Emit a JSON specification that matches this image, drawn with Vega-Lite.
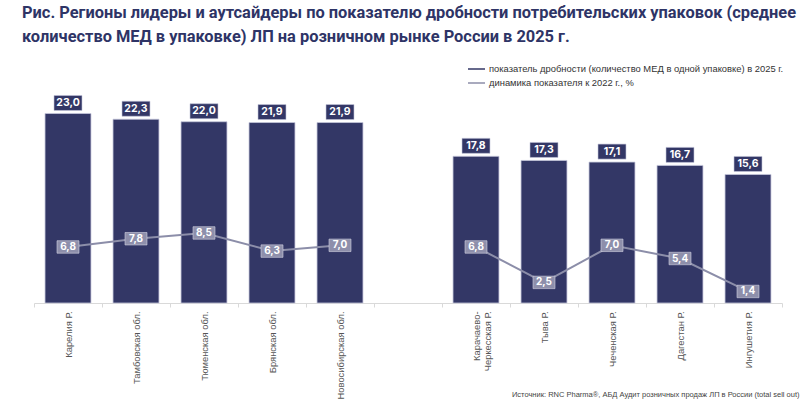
{
  "$schema": "https://vega.github.io/schema/vega-lite/v6.json",
  "autosize": "none",
  "width": 748,
  "height": 206,
  "padding": {"left": 34, "top": 97, "right": 28, "bottom": 115},
  "background": "white",
  "title": {
    "text": [
      "Рис. Регионы лидеры и аутсайдеры по показателю дробности потребительских упаковок (среднее",
      "количество МЕД в упаковке) ЛП на розничном рынке России в 2025 г."
    ],
    "anchor": "start",
    "frame": "group",
    "dx": -12,
    "offset": 14,
    "font": "Roboto",
    "fontSize": 16.4,
    "fontWeight": "bold",
    "color": "#2e3466",
    "lineHeight": 24
  },
  "data": {
    "values": [
      {"region": "Карелия Р.", "grp": "leaders", "bar": 23.0, "line": 6.8},
      {"region": "Тамбовская обл.", "grp": "leaders", "bar": 22.3, "line": 7.8},
      {"region": "Тюменская обл.", "grp": "leaders", "bar": 22.0, "line": 8.5},
      {"region": "Брянская обл.", "grp": "leaders", "bar": 21.9, "line": 6.3},
      {"region": "Новосибирская обл.", "grp": "leaders", "bar": 21.9, "line": 7.0},
      {"region": "Карачаево-Черкесская Р.", "grp": "outsiders", "bar": 17.8, "line": 6.8},
      {"region": "Тыва Р.", "grp": "outsiders", "bar": 17.3, "line": 2.5},
      {"region": "Чеченская Р.", "grp": "outsiders", "bar": 17.1, "line": 7.0},
      {"region": "Дагестан Р.", "grp": "outsiders", "bar": 16.7, "line": 5.4},
      {"region": "Ингушетия Р.", "grp": "outsiders", "bar": 15.6, "line": 1.4}
    ]
  },
  "transform": [
    {"fold": ["bar", "line"], "as": ["key", "value"]}
  ],
  "encoding": {
    "x": {
      "field": "region",
      "type": "nominal",
      "scale": {
        "domain": [
          "Карелия Р.", "Тамбовская обл.", "Тюменская обл.", "Брянская обл.", "Новосибирская обл.",
          " ",
          "Карачаево-Черкесская Р.", "Тыва Р.", "Чеченская Р.", "Дагестан Р.", "Ингушетия Р."
        ],
        "paddingInner": 0,
        "paddingOuter": 0
      },
      "axis": {
        "title": "Источник: RNC Pharma®, АБД Аудит розничных продаж ЛП в России (total sell out)",
        "titleFont": "Liberation Sans",
        "titleFontSize": 7.5,
        "titleFontWeight": "normal",
        "titleColor": "#444444",
        "titleAnchor": "end",
        "titleAlign": "right",
        "titleBaseline": "alphabetic",
        "titleX": 765,
        "titleY": 93,
        "labelAngle": -90,
        "labelFont": "Liberation Sans",
        "labelFontSize": 9.4,
        "labelColor": "#555555",
        "labelPadding": 4,
        "labelExpr": "datum.label == 'Карачаево-Черкесская Р.' ? ['Карачаево-', 'Черкесская Р.'] : datum.label",
        "tickBand": "extent",
        "tickColor": "#d9d9d9",
        "tickSize": 4,
        "domainColor": "#d9d9d9"
      }
    },
    "y": {
      "field": "value",
      "type": "quantitative",
      "scale": {"domain": [0, 25], "nice": false},
      "axis": null
    }
  },
  "layer": [
    {
      "transform": [{"filter": "datum.key == 'bar'"}],
      "mark": {"type": "bar", "width": {"band": 0.676}, "stroke": "#c5c6da", "strokeWidth": 0.8},
      "encoding": {
        "color": {
          "field": "key",
          "type": "nominal",
          "scale": {"domain": ["bar", "line"], "range": ["#333766", "#8c8ea9"]},
          "legend": {
            "title": null,
            "orient": "none",
            "legendX": 433,
            "legendY": -37.5,
            "padding": 0,
            "symbolType": "stroke",
            "symbolSize": 289,
            "rowPadding": -6.5,
            "labelOffset": 3,
            "labelLimit": 400,
            "labelFont": "Liberation Sans",
            "labelFontSize": 9.4,
            "labelColor": "#333333",
            "labelExpr": "datum.value == 'bar' ? 'показатель дробности (количество МЕД в одной упаковке) в 2025 г.' : 'динамика показателя к 2022 г., %'",
            "encode": {
              "symbols": {
                "update": {
                  "stroke": {"signal": "datum.value == 'bar' ? '#333766' : '#8c8ea9'"},
                  "strokeWidth": {"signal": "datum.value == 'bar' ? 4 : 1.5"},
                  "fill": {"value": "transparent"},
                  "opacity": {"value": 1}
                }
              }
            }
          }
        }
      }
    },
    {
      "transform": [{"filter": "datum.key == 'bar'"}],
      "mark": {
        "type": "point",
        "shape": "M-1,-0.536L1,-0.536L1,0.536L-1,0.536Z",
        "filled": true,
        "opacity": 1,
        "yOffset": -10.5,
        "color": "#333766",
        "stroke": "#c5c6da",
        "strokeWidth": 0.6
      },
      "encoding": {"size": {"value": 784}}
    },
    {
      "transform": [{"filter": "datum.key == 'bar'"}],
      "mark": {
        "type": "text",
        "dy": -10.5,
        "baseline": "middle",
        "font": "Inter",
        "fontSize": 10.5,
        "fontWeight": "bold",
        "color": "white"
      },
      "encoding": {"text": {"field": "value", "type": "quantitative", "format": ".1f"}}
    },
    {
      "transform": [{"filter": "datum.key == 'line'"}],
      "mark": {"type": "line", "strokeWidth": 2},
      "encoding": {
        "color": {"field": "key", "type": "nominal"},
        "detail": {"field": "grp", "type": "nominal"},
        "order": {"value": null}
      }
    },
    {
      "transform": [{"filter": "datum.key == 'line'"}],
      "mark": {
        "type": "point",
        "shape": "M-1,-0.568L1,-0.568L1,0.568L-1,0.568Z",
        "filled": true,
        "opacity": 1,
        "color": "#8e8fab",
        "stroke": "#d4d4e2",
        "strokeWidth": 0.6
      },
      "encoding": {"size": {"value": 484}}
    },
    {
      "transform": [{"filter": "datum.key == 'line'"}],
      "mark": {
        "type": "text",
        "baseline": "middle",
        "font": "Inter",
        "fontSize": 10,
        "fontWeight": "bold",
        "color": "white"
      },
      "encoding": {"text": {"field": "value", "type": "quantitative", "format": ".1f"}}
    }
  ],
  "config": {
    "view": {"stroke": null},
    "locale": {
      "number": {"decimal": ",", "thousands": " ", "grouping": [3], "currency": ["", " ₽"]}
    }
  }
}
